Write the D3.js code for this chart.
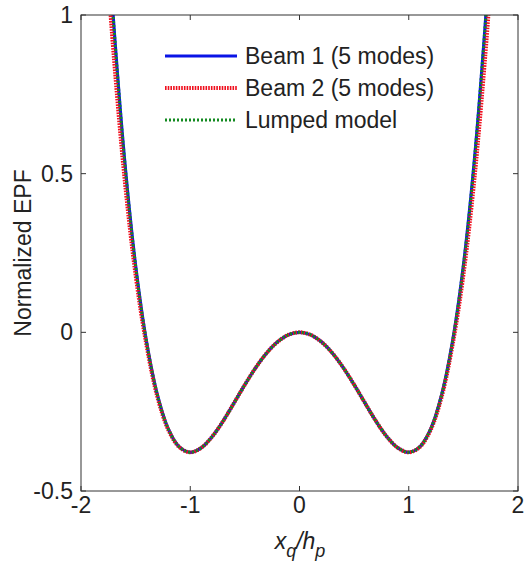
<!DOCTYPE html>
<html>
<head>
<meta charset="utf-8">
<script src="https://cdn.jsdelivr.net/npm/d3@7"></script>
<style>
  body { margin: 0; background: #fff; }
  svg text { font-family: Arial, "Liberation Sans", sans-serif; fill: #222; }
</style>
</head>
<body>
<svg id="chart" width="525" height="567"></svg>
<script>
// values (symmetric double well)
const xVals = [-1.75, -1.7, -1.6, -1.5, -1.4, -1.3, -1.2, -1.1, -1.0, -0.9, -0.8, -0.7, -0.6, -0.5, -0.4, -0.3, -0.2, -0.1, 0,
  0.1, 0.2, 0.3, 0.4, 0.5, 0.6, 0.7, 0.8, 0.9, 1.0, 1.1, 1.2, 1.3, 1.4, 1.5, 1.6, 1.7, 1.75]
const beam1 = [1.23, 0.97, 0.54, 0.21, -0.03, -0.198, -0.305, -0.361, -0.378, -0.364, -0.329, -0.28, -0.223, -0.165, -0.111, -0.065, -0.03, -0.0075, 0,
  -0.0075, -0.03, -0.065, -0.111, -0.165, -0.223, -0.28, -0.329, -0.364, -0.378, -0.361, -0.305, -0.198, -0.03, 0.21, 0.54, 0.97, 1.23]
const beam2 = [1.1, 0.87, 0.48, 0.18, -0.042, -0.205, -0.308, -0.362, -0.378, -0.364, -0.329, -0.28, -0.223, -0.165, -0.111, -0.065, -0.03, -0.0075, 0,
  -0.0075, -0.03, -0.065, -0.111, -0.165, -0.223, -0.28, -0.329, -0.364, -0.378, -0.362, -0.308, -0.205, -0.042, 0.18, 0.48, 0.87, 1.1]
const lumped = [1.22, 0.97, 0.54, 0.21, -0.03, -0.198, -0.305, -0.361, -0.378, -0.364, -0.329, -0.28, -0.223, -0.165, -0.111, -0.065, -0.03, -0.0075, 0,
  -0.0075, -0.03, -0.065, -0.111, -0.165, -0.223, -0.28, -0.329, -0.364, -0.378, -0.361, -0.305, -0.198, -0.03, 0.21, 0.54, 0.97, 1.22]

const xTicks = [-2, -1, 0, 1, 2]
const yTicks = [-0.5, 0, 0.5, 1]

const series = [
  { name: "Beam 1 (5 modes)", values: beam1, color: "#0a14e6", width: 3.2, dash: null },
  { name: "Beam 2 (5 modes)", values: beam2, color: "#f0101e", width: 4, dash: "1.6,1.1" },
  { name: "Lumped model", values: lumped, color: "#138a20", width: 3, dash: "2,2" }
]

const margin = { top: 15, right: 7, bottom: 76, left: 81 }
const width = 525 - margin.left - margin.right
const height = 567 - margin.top - margin.bottom

const svg = d3.select("#chart")
const g = svg.append("g").attr("transform", `translate(${margin.left},${margin.top})`)

const x = d3.scaleLinear().domain([-2, 2]).range([0, width])
const y = d3.scaleLinear().domain([-0.5, 1]).range([height, 0])

g.append("clipPath").attr("id", "clip")
  .append("rect").attr("width", width).attr("height", height)

// curves, drawn in legend order so the lumped model sits on top
const line = d3.line()
  .x((d, i) => x(xVals[i]))
  .y(d => y(d))
  .curve(d3.curveCatmullRom)

series.forEach(s => {
  g.append("path")
    .attr("clip-path", "url(#clip)")
    .attr("d", line(s.values))
    .attr("fill", "none")
    .attr("stroke", s.color)
    .attr("stroke-width", s.width)
    .attr("stroke-dasharray", s.dash)
})

// box with inward ticks on all sides
const axisColor = "#333"
g.append("rect")
  .attr("width", width).attr("height", height)
  .attr("fill", "none").attr("stroke", axisColor).attr("stroke-width", 1)

const tickLen = 5
xTicks.forEach(t => {
  g.append("line").attr("x1", x(t)).attr("x2", x(t)).attr("y1", height).attr("y2", height - tickLen).attr("stroke", axisColor)
  g.append("line").attr("x1", x(t)).attr("x2", x(t)).attr("y1", 0).attr("y2", tickLen).attr("stroke", axisColor)
  g.append("text")
    .attr("x", x(t)).attr("y", height + 22)
    .attr("text-anchor", "middle")
    .style("font-size", "23px")
    .text(t)
})
yTicks.forEach(t => {
  g.append("line").attr("x1", 0).attr("x2", tickLen).attr("y1", y(t)).attr("y2", y(t)).attr("stroke", axisColor)
  g.append("line").attr("x1", width).attr("x2", width - tickLen).attr("y1", y(t)).attr("y2", y(t)).attr("stroke", axisColor)
  g.append("text")
    .attr("x", -8).attr("y", y(t) + 8)
    .attr("text-anchor", "end")
    .style("font-size", "23px")
    .text(t)
})

// axis labels
const xl = svg.append("text")
  .attr("x", 300).attr("y", 549)
  .attr("text-anchor", "middle")
  .style("font-size", "23px")
  .style("font-style", "italic")
xl.append("tspan").text("x")
xl.append("tspan").attr("dy", 8).style("font-size", "18px").text("q")
xl.append("tspan").attr("dy", -8).text("/h")
xl.append("tspan").attr("dy", 8).style("font-size", "18px").text("p")

svg.append("text")
  .attr("transform", `translate(31,${margin.top + height / 2}) rotate(-90)`)
  .attr("text-anchor", "middle")
  .style("font-size", "23px")
  .text("Normalized EPF")

// legend
const legend = svg.append("g").attr("transform", "translate(165,56)")
series.forEach((s, i) => {
  const row = legend.append("g").attr("transform", `translate(0,${i * 32})`)
  row.append("line")
    .attr("x1", 0).attr("x2", 72)
    .attr("stroke", s.color)
    .attr("stroke-width", s.width)
    .attr("stroke-dasharray", s.dash)
  row.append("text")
    .attr("x", 80).attr("y", 8)
    .style("font-size", "23px")
    .text(s.name)
})
</script>
</body>
</html>
